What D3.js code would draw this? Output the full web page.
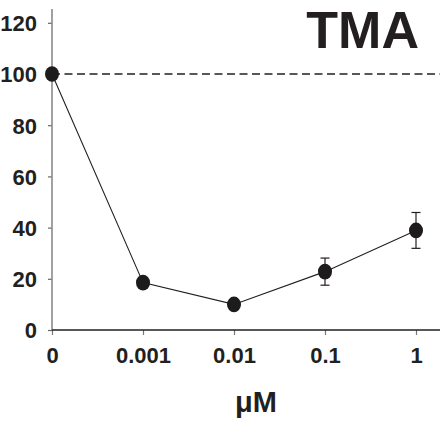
<!DOCTYPE html>
<html>
<head>
<meta charset="utf-8">
<script src="https://cdn.jsdelivr.net/npm/d3@7"></script>
<style>
body { margin: 0; background: #fff; }
text { font-family: "Liberation Sans", Arial, sans-serif; font-weight: bold; fill: #231f20; }
</style>
</head>
<body>
<script>
var width = 441
var height = 424

var doses = ['0', '0.001', '0.01', '0.1', '1']
var values = [100, 18.5, 10, 22.8, 38.9]
var errors = [0, 1.5, 1, 5.3, 7]
var yTicks = [0, 20, 40, 60, 80, 100, 120]

var svg = d3.select('body')
			.append('svg')
			.attr('width', width)
			.attr('height', height)

var x = d3.scalePoint()
			.domain(doses)
			.range([52, 416])

var y = d3.scaleLinear()
			.domain([0, 100])
			.range([330, 74])

// y axis, grey line with ticks on the left
var yAxis = svg.append('g')
			.attr('transform', 'translate(52,0)')
			.call(d3.axisLeft(y).tickValues(yTicks).tickSize(4).tickPadding(11))

yAxis.select('.domain').remove()
yAxis.selectAll('line').attr('stroke', '#666').attr('stroke-width', 1.2)
yAxis.selectAll('text').attr('font-size', 22).attr('dy', '0.36em').attr('fill', '#231f20')

svg.append('line')
	.attr('x1', 52).attr('x2', 52)
	.attr('y1', 9).attr('y2', 330)
	.attr('stroke', '#8a8a8a')
	.attr('stroke-width', 1.6)

// x axis
var xAxis = svg.append('g')
			.attr('transform', 'translate(0,330)')
			.call(d3.axisBottom(x).tickSize(5).tickPadding(8))

xAxis.select('.domain').remove()
xAxis.selectAll('line').attr('stroke', '#777').attr('stroke-width', 1.2)
xAxis.selectAll('text').attr('font-size', 22).attr('dy', '0.9em').attr('fill', '#231f20')

svg.append('line')
	.attr('x1', 52).attr('x2', 440)
	.attr('y1', 330).attr('y2', 330)
	.attr('stroke', '#231f20')
	.attr('stroke-width', 1.6)

// dashed 100% reference
svg.append('line')
	.attr('x1', 52).attr('x2', 440)
	.attr('y1', y(100)).attr('y2', y(100))
	.attr('stroke', '#231f20')
	.attr('stroke-width', 1.4)
	.attr('stroke-dasharray', '8,4.5')

var pts = doses.map(function(d, i){ return {dose: d, v: values[i], e: errors[i]} })

svg.append('path')
	.datum(pts)
	.attr('fill', 'none')
	.attr('stroke', '#231f20')
	.attr('stroke-width', 1.1)
	.attr('d', d3.line()
		.x(function(d){ return x(d.dose) })
		.y(function(d){ return y(d.v) }))

var bars = svg.selectAll('.err')
			.data(pts.filter(function(d){ return d.e > 2 }))
			.enter()
			.append('g')
			.attr('stroke', '#231f20')
			.attr('stroke-width', 1.2)

bars.append('line')
	.attr('x1', function(d){ return x(d.dose) })
	.attr('x2', function(d){ return x(d.dose) })
	.attr('y1', function(d){ return y(d.v + d.e) })
	.attr('y2', function(d){ return y(d.v - d.e) })

bars.selectAll('.cap')
	.data(function(d){ return [d.v + d.e, d.v - d.e].map(function(v){ return {dose: d.dose, v: v} }) })
	.enter()
	.append('line')
	.attr('x1', function(d){ return x(d.dose) - 4.5 })
	.attr('x2', function(d){ return x(d.dose) + 4.5 })
	.attr('y1', function(d){ return y(d.v) })
	.attr('y2', function(d){ return y(d.v) })

svg.selectAll('ellipse')
	.data(pts)
	.enter()
	.append('ellipse')
	.attr('cx', function(d){ return x(d.dose) })
	.attr('cy', function(d){ return y(d.v) })
	.attr('rx', 7)
	.attr('ry', 7.8)
	.attr('fill', '#1e1b1c')

svg.append('text')
	.attr('x', 419)
	.attr('y', 48)
	.attr('text-anchor', 'end')
	.attr('font-size', 52)
	.text('TMA')

svg.append('text')
	.attr('x', 256)
	.attr('y', 412)
	.attr('text-anchor', 'middle')
	.attr('font-size', 29)
	.text('μM')
</script>
</body>
</html>
